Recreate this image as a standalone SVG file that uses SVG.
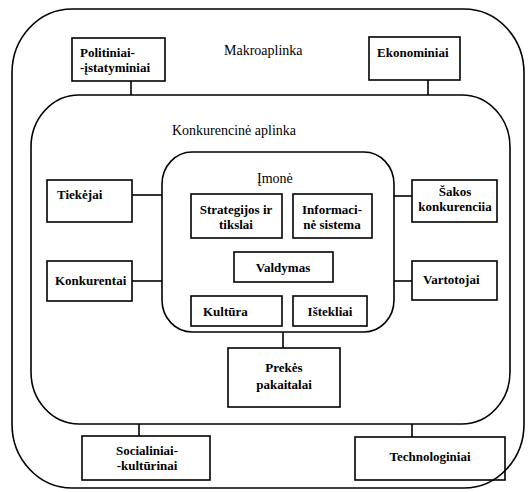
<svg xmlns="http://www.w3.org/2000/svg" width="532" height="492" viewBox="0 0 532 492">
<style>
rect,path,line{fill:none;stroke:#000;stroke-width:1.6}
.bg{fill:#fff;stroke:none}
.h{font-family:"Liberation Serif","Times New Roman",serif;font-size:14px;fill:#000}
.t{font-family:"Liberation Serif","Times New Roman",serif;font-size:13px;font-weight:bold;fill:#000}
.c{text-anchor:middle}
</style>
<rect class="bg" x="0" y="0" width="532" height="492"/>
<g id="makroaplinka">
<rect x="12" y="9" width="512" height="479" rx="60" ry="64"/>
<text class="h" x="224" y="55">Makroaplinka</text>
</g>
<g id="konkurencine-aplinka">
<rect x="31" y="95" width="479" height="329" rx="48" ry="52"/>
<text class="h" x="172" y="135">Konkurencinė aplinka</text>
</g>
<g id="imone">
<rect x="162" y="152" width="232" height="180" rx="30" ry="32"/>
<text class="h" x="257" y="183">Įmonė</text>
</g>
<g id="connectors">
<line x1="131" y1="81" x2="131" y2="95"/>
<line x1="428" y1="80" x2="428" y2="95"/>
<line x1="132" y1="195" x2="162" y2="195"/>
<line x1="132" y1="281" x2="162" y2="281"/>
<line x1="394" y1="196" x2="412" y2="196"/>
<line x1="394" y1="281" x2="412" y2="281"/>
<line x1="283" y1="332" x2="283" y2="348"/>
<line x1="139" y1="424" x2="139" y2="436"/>
<line x1="412" y1="424" x2="412" y2="437"/>
</g>
<g id="politiniai">
<rect x="72" y="38" width="93" height="43"/>
<text class="t" x="80" y="57">Politiniai-</text>
<text class="t" x="80" y="72">-įstatyminiai</text>
</g>
<g id="ekonominiai">
<rect x="369" y="37" width="91" height="43"/>
<text class="t" x="377" y="57">Ekonominiai</text>
</g>
<g id="tiekejai">
<rect x="47" y="180" width="85" height="42"/>
<text class="t" x="57" y="199">Tiekėjai</text>
</g>
<g id="konkurentai">
<rect x="47" y="261" width="85" height="40"/>
<text class="t" x="55" y="285">Konkurentai</text>
</g>
<g id="sakos">
<rect x="412" y="180" width="85" height="42"/>
<text class="t c" x="455" y="196">Šakos</text>
<text class="t c" x="455" y="211">konkurenciia</text>
</g>
<g id="vartotojai">
<rect x="412" y="261" width="85" height="39"/>
<text class="t" x="423" y="284">Vartotojai</text>
</g>
<g id="strategijos">
<rect x="191" y="194" width="91" height="44"/>
<text class="t c" x="236" y="214">Strategijos ir</text>
<text class="t c" x="236" y="229">tikslai</text>
</g>
<g id="informacine">
<rect x="293" y="194" width="79" height="44"/>
<text class="t c" x="332" y="214">Informaci-</text>
<text class="t c" x="332" y="229">nė sistema</text>
</g>
<g id="valdymas">
<rect x="234" y="252" width="99" height="30"/>
<text class="t c" x="283" y="272">Valdymas</text>
</g>
<g id="kultura">
<rect x="191" y="296" width="91" height="30"/>
<text class="t" x="203" y="316">Kultūra</text>
</g>
<g id="istekliai">
<rect x="293" y="296" width="74" height="30"/>
<text class="t c" x="330" y="316">Ištekliai</text>
</g>
<g id="prekes">
<rect x="228" y="348" width="112" height="59"/>
<text class="t c" x="284" y="372">Prekės</text>
<text class="t c" x="284" y="389">pakaitalai</text>
</g>
<g id="socialiniai">
<rect x="82" y="436" width="128" height="44"/>
<text class="t c" x="147" y="455">Socialiniai-</text>
<text class="t c" x="147" y="470">-kultūrinai</text>
</g>
<g id="technologiniai">
<rect x="355" y="437" width="150" height="43"/>
<text class="t c" x="430" y="461">Technologiniai</text>
</g>
</svg>
